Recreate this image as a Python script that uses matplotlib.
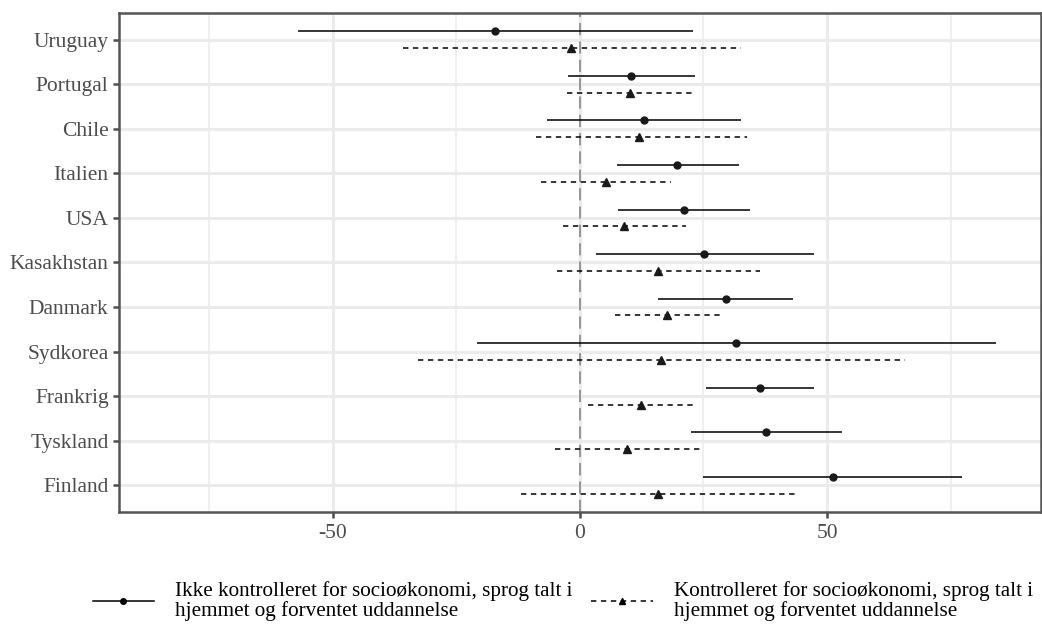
import matplotlib
matplotlib.use("Agg")
import matplotlib.pyplot as plt
import numpy as np
from matplotlib.lines import Line2D

plt.rcParams['font.family'] = ['Liberation Serif', 'DejaVu Serif']

countries = ["Uruguay", "Portugal", "Chile", "Italien", "USA", "Kasakhstan",
             "Danmark", "Sydkorea", "Frankrig", "Tyskland", "Finland"]

# not controlled
est1 = [-17.1, 10.4, 13.0, 19.7, 21.1, 25.2, 29.5, 31.6, 36.5, 37.7, 51.2]
lo1 = [-57.1, -2.5, -6.7, 7.4, 7.7, 3.2, 15.8, -20.9, 25.5, 22.5, 25.0]
hi1 = [22.8, 23.3, 32.6, 32.1, 34.5, 47.3, 43.2, 84.2, 47.4, 53.0, 77.3]

# controlled
est2 = [-1.8, 10.2, 12.0, 5.3, 9.0, 15.8, 17.7, 16.4, 12.3, 9.6, 15.7]
lo2 = [-35.8, -2.7, -8.9, -7.8, -3.4, -4.7, 7.1, -32.8, 1.7, -5.0, -11.9]
hi2 = [32.6, 23.5, 33.9, 18.4, 21.4, 36.4, 29.0, 65.8, 23.5, 24.8, 43.7]

labels = ["Ikke kontrolleret for socioøkonomi, sprog talt i\nhjemmet og forventet uddannelse",
          "Kontrolleret for socioøkonomi, sprog talt i\nhjemmet og forventet uddannelse"]

fig = plt.figure(figsize=(10.42, 6.25), dpi=100)
ax = fig.add_axes([0.1142, 0.181, 0.8848, 0.798])

y = np.arange(len(countries))[::-1] + 1
off = 0.19

# grid
for v in [-75, -25, 25, 75]:
    ax.axvline(v, color="#EBEBEB", lw=1.1, zorder=0)
for v in [-50, 0, 50]:
    ax.axvline(v, color="#EBEBEB", lw=2.2, zorder=0)
for v in y:
    ax.axhline(v, color="#EBEBEB", lw=2.2, zorder=0)

ax.axvline(0, color="#7F7F7F", lw=1.1, ls=(0, (8, 4)), zorder=1)

ax.hlines(y + off, lo1, hi1, color="black", lw=1.1, zorder=2)
ax.plot(est1, y + off, "o", color="#1a1a1a", ms=5, zorder=3)
ax.hlines(y - off, lo2, hi2, color="black", lw=1.1, linestyles=(0, (3.5, 3)), zorder=2)
ax.plot(est2, y - off, "^", color="#1a1a1a", ms=6, zorder=3)

ax.set_xlim(-93.3, 93.3)
ax.set_ylim(0.4, 11.6)
ax.set_xticks([-50, 0, 50])
ax.set_xticklabels(["-50", "0", "50"])
ax.set_yticks(y)
ax.set_yticklabels(countries)
ax.tick_params(axis="both", colors="#4D4D4D", labelsize=15.5, length=4, width=1.8)
ax.tick_params(axis="x", pad=5)
for s in ax.spines.values():
    s.set_color("#555555")
    s.set_linewidth(1.8)

handles = [
    Line2D([], [], color="black", lw=1.1, marker="o", ms=4),
    Line2D([], [], color="black", lw=1.1, ls=(0, (3.5, 3)), marker="^", ms=5),
]
leg = fig.legend(handles, labels, loc="lower center", bbox_to_anchor=(0.54, -0.024),
                 ncol=2, frameon=False, fontsize=15.2, handlelength=2.9,
                 handletextpad=1.0, columnspacing=0.9, labelspacing=0.2)
for t in leg.get_texts():
    t.set_linespacing(1.0)

fig.savefig("out.png", dpi=100)
